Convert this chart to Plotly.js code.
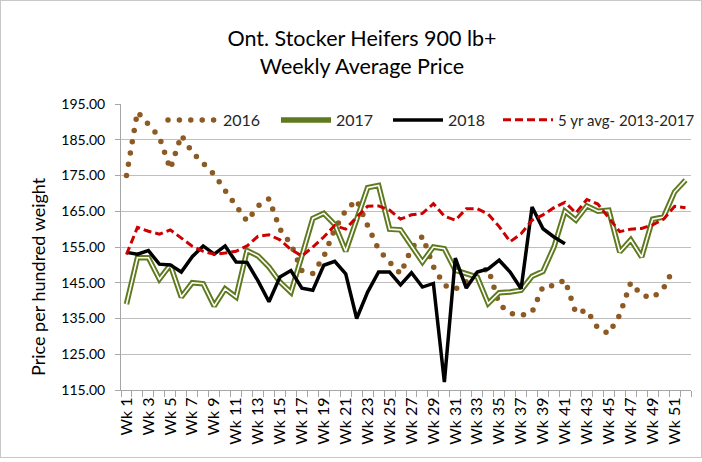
<!DOCTYPE html>
<html><head><meta charset="utf-8">
<script src="https://cdn.plot.ly/plotly-3.0.1.min.js"></script>
<style>
html,body{margin:0;padding:0;background:#fff;}
#chart{width:702px;height:462px;}
#frame{position:absolute;left:0;top:0;width:700px;height:456px;border:1px solid #c8c8c8;pointer-events:none;}
</style>
</head><body>
<div id="chart"></div><div id="frame"></div>
<script>
const weeks = [1,2,3,4,5,6,7,8,9,10,11,12,13,14,15,16,17,18,19,20,21,22,23,24,25,26,27,28,29,30,31,32,33,34,35,36,37,38,39,40,41,42,43,44,45,46,47,48,49,50,51,52];
const weekLabels = weeks.map(w => 'Wk ' + w);
const labeledWeeks = weeks.filter(w => w % 2 === 1);
const labeledText = labeledWeeks.map(w => 'Wk ' + w);
const seriesNames = ['2016', '2017', '2018', '5 yr avg- 2013-2017'];

const y2016 = [175,192.8,189.3,185.8,176.8,186.3,181.5,178.2,175.3,170.8,166.5,162.2,166.5,168.5,160,155.8,148.4,147.6,152.3,160,165.2,168.2,161,154.3,150.8,147.5,154.6,158,149.5,144.3,143.2,145.5,147.5,149,139,136.5,135.8,136.8,144,144.2,145.8,136.5,137.3,132.3,130.8,136,145,141.5,140.8,143.5,149.5];
const y2017 = [139,152,152,146,150,141,145,144.7,138.5,143.3,141,154,152.5,149.4,145.2,142.3,152.5,163,164.4,161.3,153.8,163,171.6,172.2,160,159.8,155.3,150.8,155,154.5,148.5,147.5,146.6,139.2,142.2,142.4,142.9,146.8,148.2,155,165,162.5,166.5,165,165.3,153.6,157,152.2,162.8,163.4,170.4,173.7];
const y2018 = [153.5,153,154,150.2,150,148,152.3,155.3,153,155.3,150.8,150.7,145.5,139.7,146.6,148.4,143.5,142.9,149.9,151,147.5,135,142.4,148,148,144.4,147.8,143.8,144.8,117.2,151.9,143.5,148,148.9,151.3,148,143.3,166.2,160.1,157.8,155.9];
const y5yr = [152.9,160.5,159.4,158.6,159.8,157.6,155.2,153.8,153,153.3,153.8,155.3,158,158.4,157,154.3,152.5,155,157.8,161,160,163.4,166.4,166.5,165.3,162.8,164,164.4,167.1,163.6,162.5,165.7,165.7,164.2,160.7,156.5,158.7,162.5,164,166,167.5,164.5,168.3,167,163,159.3,160,160.2,161.2,162.8,166.4,166];

const FONT = 'Lato, "Open Sans", sans-serif';
const brown = '#8c5a22', green = '#5f7a1e', red = '#cc0000';

const traces = [
  {x: weeks.slice(0, y2016.length), y: y2016, name: seriesNames[0], mode: 'lines', legend: 'legend',
   line: {color: brown, width: 5.5, dash: '0px,11.4px'}},
  {x: weeks, y: y2017, name: seriesNames[1], mode: 'lines', legend: 'legend2',
   line: {color: green, width: 5.5}},
  {x: weeks, y: y2017, name: seriesNames[1] + ' inner', mode: 'lines', showlegend: false, hoverinfo: 'skip',
   line: {color: '#ffffff', width: 1.6}},
  {x: weeks.slice(0, y2018.length), y: y2018, name: seriesNames[2], mode: 'lines', legend: 'legend3',
   line: {color: '#000000', width: 3.5}},
  {x: weeks, y: y5yr, name: seriesNames[3], mode: 'lines', legend: 'legend4',
   line: {color: red, width: 3, dash: '8px,4px'}}
];

const minorVals = [];
for (let i = 0; i <= weeks.length; i++) minorVals.push(i + 0.5);

function legendAt(px, size) {
  return {orientation: 'h', x: (px - 121) / 570, xanchor: 'left', y: (390 - 120) / 286, yanchor: 'middle',
          bgcolor: 'rgba(0,0,0,0)', font: {family: FONT, size: size, color: '#262626'}, itemwidth: 50};
}

const layout = {
  width: 702, height: 462,
  margin: {l: 121, r: 11, t: 104, b: 72, autoexpand: false},
  paper_bgcolor: '#ffffff', plot_bgcolor: '#ffffff',
  font: {family: FONT, color: '#000000', size: 14},
  title: {text: 'Ont. Stocker Heifers 900 lb+<br>Weekly Average Price',
          font: {family: FONT, size: 21.5, color: '#000000'},
          x: 362/702, xanchor: 'center', y: 1 - 46/462, yanchor: 'top'},
  showlegend: true,
  legend: legendAt(163, 16),
  legend2: legendAt(276, 16),
  legend3: legendAt(388, 16),
  legend4: legendAt(498, 15),
  xaxis: {range: [0.5, 52.5], tickmode: 'array', tickvals: labeledWeeks, ticktext: labeledText,
          tickangle: -90, ticks: '', showgrid: false, zeroline: false,
          showline: true, linecolor: '#a6a6a6', linewidth: 1,
          tickfont: {family: FONT, size: 16, color: '#000000'},
          minor: {tickmode: 'array', tickvals: minorVals, ticks: 'outside', ticklen: 6, tickcolor: '#a6a6a6', tickwidth: 1, showgrid: false}},
  yaxis: {range: [115, 195], tickmode: 'linear', tick0: 115, dtick: 10, tickformat: '.2f',
          showgrid: true, gridcolor: '#bfbfbf', gridwidth: 1, zeroline: false,
          showline: true, linecolor: '#a6a6a6', linewidth: 1,
          ticks: 'outside', ticklen: 5, tickcolor: '#a6a6a6', ticklabelstandoff: 7,
          tickfont: {family: FONT, size: 14, color: '#000000'}},
  annotations: [
    {text: 'Price per hundred weight', textangle: -90, xref: 'paper', yref: 'paper',
     x: (38-121)/570, y: (390-277)/286, xanchor: 'center', yanchor: 'middle', showarrow: false,
     font: {family: FONT, size: 18, color: '#000000'}}
  ]
};

Plotly.newPlot('chart', traces, layout, {displayModeBar: false, staticPlot: true}).then(gd => {
  gd.querySelectorAll('path.js-line').forEach(p => {
    if ((p.style.strokeDasharray || '').trim().startsWith('0')) p.style.strokeLinecap = 'round';
  });
  gd.querySelectorAll('.traces').forEach(item => {
    const t = item.querySelector('.legendtext');
    if (t && t.textContent === seriesNames[1]) {
      const line = item.querySelector('path.js-line');
      if (line) {
        const c = line.cloneNode(true);
        c.style.stroke = '#ffffff';
        c.style.strokeWidth = '1.6px';
        line.parentNode.appendChild(c);
      }
    }
  });
});
</script>
</body></html>
